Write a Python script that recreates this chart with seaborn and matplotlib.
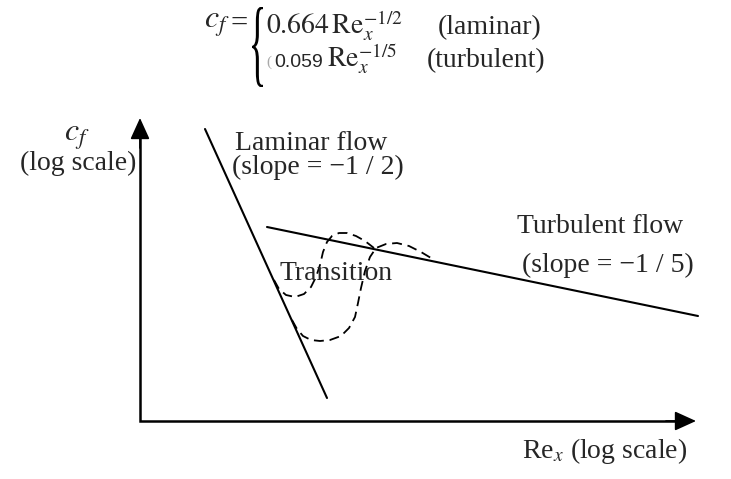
import seaborn as sns
import matplotlib.pyplot as plt
from matplotlib.textpath import TextPath
from matplotlib.font_manager import FontProperties
from matplotlib.patches import PathPatch
from matplotlib.transforms import Affine2D

# skin friction sketch: laminar / turbulent c_f lines on log-log axes with transition loops

# ==== 1. DATA (picture coordinates, y grows downward) ====
laminar_x = [205, 327]
laminar_y = [129, 398]

turbulent_x = [267, 698]
turbulent_y = [227, 316]

# early transition (upper dashed loop)
trans_a_x = [274, 279, 286, 295, 304, 311, 316, 320, 323, 327, 332, 339, 347, 356, 365, 374]
trans_a_y = [280, 289, 295, 297, 294, 287, 277, 265, 252, 242, 236, 233, 233, 236, 241, 248]

# late transition (lower dashed loop)
trans_b_x = [292, 297, 303, 311, 320, 330, 341, 349, 355, 358, 361, 365, 370, 376, 386, 397, 409, 421, 431]
trans_b_y = [320, 329, 336, 340, 341, 340, 336, 328, 317, 303, 288, 271, 257, 248, 244, 243, 246, 252, 258]

# axes frame: origin, top of y arrow, end of x arrow
origin = (140, 421)
y_tip = 118
x_tip = 696

# ==== 2. STYLE ====
sns.set_theme(style='white')
plt.rcParams['font.family'] = ['Liberation Serif', 'DejaVu Serif']
plt.rcParams['mathtext.fontset'] = 'stix'

fig = plt.figure(figsize=(7.31, 4.79), dpi=100)
ax = fig.add_axes([0, 0, 1, 1])
ax.set_xlim(0, 731)
ax.set_ylim(479, 0)
ax.axis('off')

# ==== 3. AXES WITH ARROWS ====
ax.plot([origin[0], origin[0], x_tip - 10], [y_tip + 10, origin[1], origin[1]],
        color='black', lw=1.8, solid_joinstyle='miter')
arrow = dict(arrowstyle='-|>,head_length=0.55,head_width=0.25', color='black',
             lw=1.2, shrinkA=0, shrinkB=0, mutation_scale=24)
ax.annotate('', xy=(origin[0], y_tip), xytext=(origin[0], y_tip + 30), arrowprops=arrow)
ax.annotate('', xy=(x_tip, origin[1]), xytext=(x_tip - 30, origin[1]), arrowprops=arrow)

# ==== 4. LINES ====
sns.lineplot(x=laminar_x, y=laminar_y, color='black', lw=1.5, ax=ax,
             sort=False, estimator=None)
sns.lineplot(x=turbulent_x, y=turbulent_y, color='black', lw=1.5, ax=ax,
             sort=False, estimator=None)
for xs, ys in [(trans_a_x, trans_a_y), (trans_b_x, trans_b_y)]:
    sns.lineplot(x=xs, y=ys, color='black', lw=1.3, ax=ax, sort=False,
                 estimator=None, linestyle=(0, (5.5, 3.2)))

# ==== 5. LABELS ====
ax.text(64, 141, r'$c_f$', fontsize=23, va='baseline', ha='left')
ax.text(20, 170, '(log scale)', fontsize=20, va='baseline', ha='left')
ax.text(235, 150, 'Laminar flow', fontsize=20, va='baseline', ha='left')
ax.text(232, 174, '(slope = \u22121 / 2)', fontsize=20, va='baseline', ha='left')
ax.text(517, 233, 'Turbulent flow', fontsize=20, va='baseline', ha='left')
ax.text(522, 272, '(slope = \u22121 / 5)', fontsize=20, va='baseline', ha='left')
ax.text(280, 280, 'Transition', fontsize=20, va='baseline', ha='left')
ax.text(687, 458, r'Re$_x$ (log scale)', fontsize=20, va='baseline', ha='right')

# ==== 6. EQUATION AT TOP ====
ax.text(204, 28, r'$c_f$', fontsize=23, va='baseline', ha='left')
ax.text(231, 32, '=', fontsize=22, va='baseline', ha='left')

tp = TextPath((0, 0), '{', size=1, prop=FontProperties(family='Liberation Serif'))
ext = tp.get_extents()
brace_tr = (Affine2D().translate(-ext.x0, -ext.y0)
            .scale(11 / ext.width, -80 / ext.height)
            .translate(252, 87) + ax.transData)
ax.add_patch(PathPatch(tp, transform=brace_tr, facecolor='black', edgecolor='none'))

ax.text(266, 34, r'$0.664\,\mathrm{Re}_x^{-1/2}$', fontsize=20, va='baseline', ha='left')
ax.text(438, 34, '(laminar)', fontsize=20, va='baseline', ha='left')
ax.text(266, 66, '(', fontsize=11, color='#aaaaaa', va='baseline', ha='left')
ax.text(274, 67, '0.059', fontsize=14, family=['Liberation Sans', 'DejaVu Sans'],
        va='baseline', ha='left')
ax.text(327, 67, r'$\mathrm{Re}_x^{-1/5}$', fontsize=20, va='baseline', ha='left')
ax.text(427, 67, '(turbulent)', fontsize=20, va='baseline', ha='left')

plt.savefig('out.png', dpi=100)
